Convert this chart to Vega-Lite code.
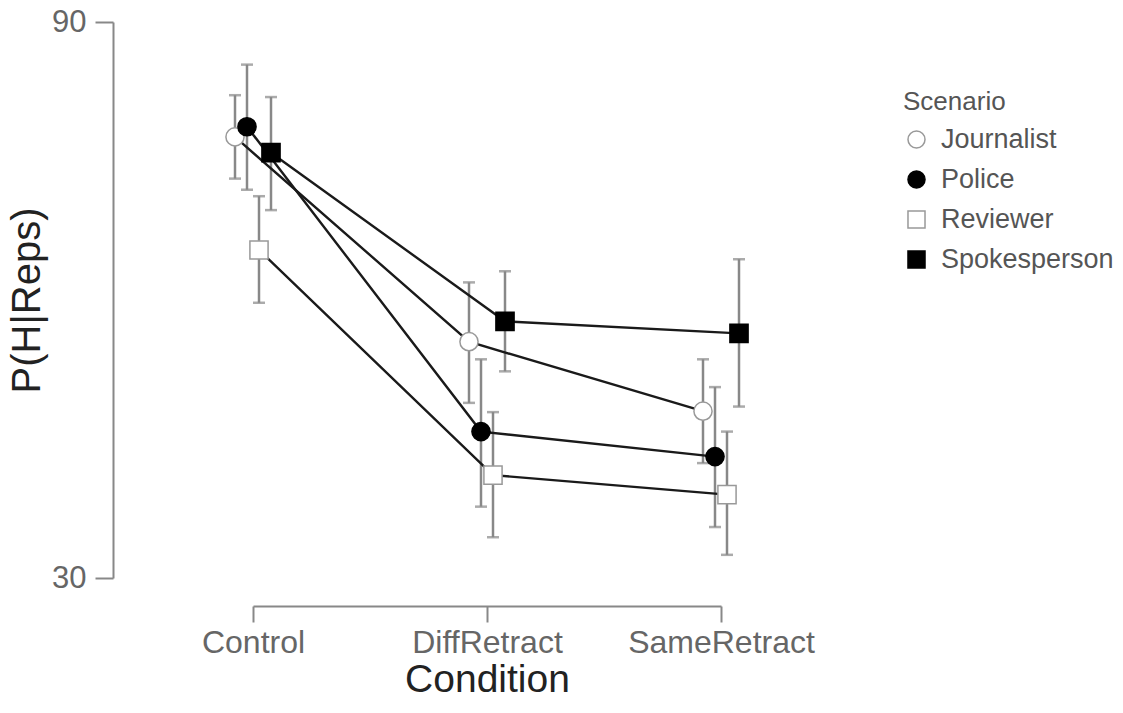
{
  "$schema": "https://vega.github.io/schema/vega-lite/v6.json",
  "autosize": {"type": "none"},
  "padding": {"left": 113, "top": 22, "right": 0, "bottom": 107},
  "width": 1010,
  "height": 584,
  "background": "white",
  "config": {
    "view": {"stroke": null},
    "font": "Liberation Sans"
  },
  "data": {
    "values": [
      {"Condition": "Control", "Scenario": "Journalist", "mean": 77.6, "lo": 73.1, "hi": 82.1},
      {"Condition": "Control", "Scenario": "Police", "mean": 78.7, "lo": 71.9, "hi": 85.4},
      {"Condition": "Control", "Scenario": "Reviewer", "mean": 65.4, "lo": 59.7, "hi": 71.2},
      {"Condition": "Control", "Scenario": "Spokesperson", "mean": 75.9, "lo": 69.7, "hi": 81.9},
      {"Condition": "DiffRetract", "Scenario": "Journalist", "mean": 55.5, "lo": 48.9, "hi": 61.9},
      {"Condition": "DiffRetract", "Scenario": "Police", "mean": 45.8, "lo": 37.7, "hi": 53.6},
      {"Condition": "DiffRetract", "Scenario": "Reviewer", "mean": 41.1, "lo": 34.4, "hi": 47.9},
      {"Condition": "DiffRetract", "Scenario": "Spokesperson", "mean": 57.7, "lo": 52.3, "hi": 63.1},
      {"Condition": "SameRetract", "Scenario": "Journalist", "mean": 48.0, "lo": 42.4, "hi": 53.6},
      {"Condition": "SameRetract", "Scenario": "Police", "mean": 43.1, "lo": 35.5, "hi": 50.6},
      {"Condition": "SameRetract", "Scenario": "Reviewer", "mean": 39.0, "lo": 32.5, "hi": 45.8},
      {"Condition": "SameRetract", "Scenario": "Spokesperson", "mean": 56.4, "lo": 48.5, "hi": 64.4}
    ]
  },
  "encoding": {
    "x": {
      "field": "Condition", "type": "nominal",
      "scale": {"type": "point", "range": [140, 608], "padding": 0},
      "axis": {
        "title": "Condition", "labelAngle": 0, "labelLimit": 0,
        "domainColor": "#888", "domainWidth": 2,
        "tickColor": "#888", "tickWidth": 2, "tickSize": 16,
        "labelFontSize": 32, "labelColor": "#666", "labelPadding": 5,
        "titleFontSize": 39, "titleColor": "#222", "titleFontWeight": "normal", "titlePadding": 2
      }
    },
    "xOffset": {
      "field": "Scenario", "type": "nominal",
      "scale": {"type": "point", "range": [-18, 18], "padding": 0}
    }
  },
  "layer": [
    {
      "mark": {"type": "rule", "color": "#888", "strokeWidth": 2.5},
      "encoding": {
        "y": {
          "field": "lo", "type": "quantitative",
          "scale": {"domain": [30, 90], "range": [556, 0], "zero": false, "nice": false},
          "axis": {
            "title": "P(H|Reps)", "values": [30, 90],
            "domainColor": "#888", "domainWidth": 2,
            "tickColor": "#888", "tickWidth": 2, "tickSize": 18,
            "labelFontSize": 31, "labelColor": "#666", "labelPadding": 9,
            "titleFontSize": 40, "titleColor": "#222", "titleFontWeight": "normal", "titlePadding": 4,
            "grid": false
          }
        },
        "y2": {"field": "hi"}
      }
    },
    {
      "mark": {"type": "tick", "color": "#888", "thickness": 2.5, "size": 12},
      "encoding": {"y": {"field": "lo", "type": "quantitative"}}
    },
    {
      "mark": {"type": "tick", "color": "#888", "thickness": 2.5, "size": 12},
      "encoding": {"y": {"field": "hi", "type": "quantitative"}}
    },
    {
      "mark": {"type": "line", "color": "#1a1a1a", "strokeWidth": 2.4},
      "encoding": {
        "y": {"field": "mean", "type": "quantitative"},
        "detail": {"field": "Scenario"}
      }
    },
    {
      "mark": {"type": "point", "filled": true, "size": 330, "strokeWidth": 1.5, "opacity": 1},
      "encoding": {
        "y": {"field": "mean", "type": "quantitative"},
        "shape": {
          "field": "Scenario", "type": "nominal",
          "scale": {"domain": ["Journalist", "Police", "Reviewer", "Spokesperson"], "range": ["circle", "circle", "square", "square"]},
          "legend": {
            "title": "Scenario", "orient": "none", "legendX": 790, "legendY": 67,
            "titleFontSize": 26, "titleColor": "#555", "titleFontWeight": "normal", "titlePadding": 11,
            "labelFontSize": 27, "labelColor": "#555", "labelOffset": 11, "labelLimit": 0,
            "symbolSize": 290, "symbolStrokeWidth": 1.5, "rowPadding": 12
          }
        },
        "fill": {
          "field": "Scenario", "type": "nominal",
          "scale": {"domain": ["Journalist", "Police", "Reviewer", "Spokesperson"], "range": ["white", "black", "white", "black"]},
          "legend": {
            "title": "Scenario", "orient": "none", "legendX": 790, "legendY": 67
          }
        },
        "stroke": {
          "field": "Scenario", "type": "nominal",
          "scale": {"domain": ["Journalist", "Police", "Reviewer", "Spokesperson"], "range": ["#999", "black", "#999", "black"]},
          "legend": {
            "title": "Scenario", "orient": "none", "legendX": 790, "legendY": 67
          }
        }
      }
    }
  ]
}
